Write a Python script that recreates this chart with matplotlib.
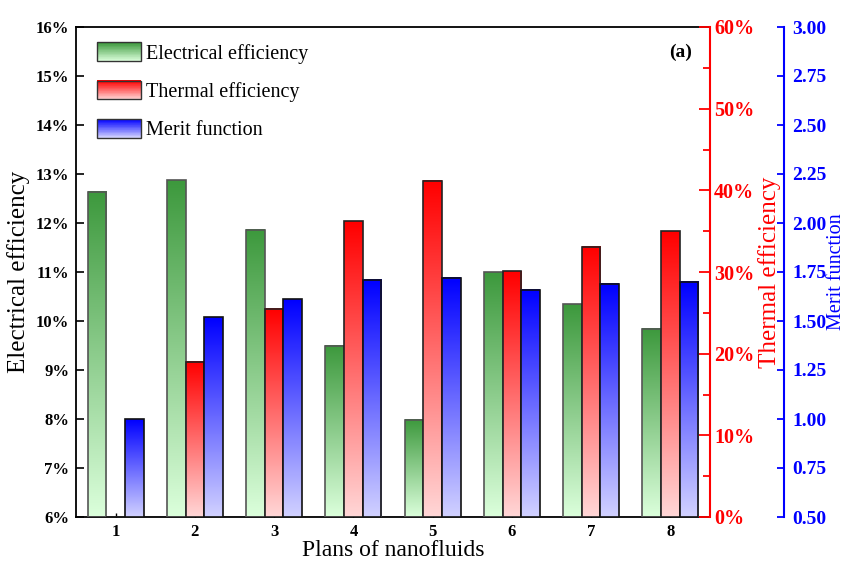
import numpy as np
import matplotlib
matplotlib.use('Agg')
import matplotlib.pyplot as plt
from matplotlib.patches import Rectangle
from matplotlib.legend_handler import HandlerBase
from matplotlib.ticker import MultipleLocator, FuncFormatter

plt.rcParams['font.family'] = ['Liberation Serif', 'DejaVu Serif']

# data
plans = [1, 2, 3, 4, 5, 6, 7, 8]
electrical = [12.64, 12.87, 11.86, 9.50, 7.98, 10.99, 10.34, 9.84]      # %
thermal = [np.nan, 19.0, 25.5, 36.2, 41.2, 30.1, 33.1, 35.0]            # %
merit = [1.00, 1.52, 1.61, 1.71, 1.72, 1.66, 1.69, 1.70]
labels = ['Electrical efficiency', 'Thermal efficiency', 'Merit function']

# gradient colours (top, bottom)
green = ((0.24, 0.60, 0.24), (0.86, 1.0, 0.86))
red = ((1.0, 0.0, 0.0), (1.0, 0.84, 0.84))
blue = ((0.0, 0.0, 1.0), (0.82, 0.82, 1.0))

w = 0.235


def grad_bars(ax, xs, vals, base, cols, edge):
    top, bot = np.array(cols[0]), np.array(cols[1])
    t = np.linspace(0, 1, 100)[:, None, None]
    img = top * (1 - t) + bot * t
    for x, v in zip(xs, vals):
        if np.isnan(v):
            continue
        ax.imshow(img, extent=[x - w / 2, x + w / 2, base, v], origin='upper',
                  aspect='auto', zorder=2, interpolation='bilinear')
    ax.bar(xs, [0 if np.isnan(v) else v - base for v in vals], width=w, bottom=base,
           facecolor='none', edgecolor=edge, linewidth=1.2, zorder=3)


class GradHandler(HandlerBase):
    def __init__(self, cols):
        super().__init__()
        self.cols = cols

    def create_artists(self, legend, orig_handle, xdescent, ydescent, width, height, fontsize, trans):
        top, bot = np.array(self.cols[0]), np.array(self.cols[1])
        arts = []
        n = 30
        for i in range(n):
            f = i / (n - 1)
            c = bot * (1 - f) + top * f
            arts.append(Rectangle((-xdescent, -ydescent + i * height / n), width, height / n + 0.3,
                                  facecolor=c, edgecolor='none', transform=trans))
        arts.append(Rectangle((-xdescent, -ydescent), width, height, fill=False,
                              edgecolor='#333333', linewidth=1.0, transform=trans))
        return arts


fig = plt.figure(figsize=(8.49, 5.65), dpi=100)
ax1 = fig.add_axes([76 / 849, 48 / 565, 634 / 849, 490 / 565])
ax2 = ax1.twinx()
ax3 = ax1.twinx()
ax3.spines['right'].set_position(('axes', 1.117))

x = np.array(plans, dtype=float)
grad_bars(ax1, x - w, electrical, 6, green, '#555555')
grad_bars(ax2, x, thermal, 0, red, '#222222')
grad_bars(ax3, x + w, merit, 0.5, blue, '#111111')

for a in (ax1, ax2, ax3):
    a.set_xlim(0.5, 8.5)
ax1.set_ylim(6, 16)
ax2.set_ylim(0, 60)
ax3.set_ylim(0.5, 3.0)

# spines
ax1.spines['right'].set_visible(False)
for s in ('left', 'top', 'bottom'):
    ax2.spines[s].set_visible(False)
    ax3.spines[s].set_visible(False)
ax1.spines['left'].set_linewidth(1.3)
ax1.spines['bottom'].set_linewidth(1.3)
ax1.spines['top'].set_linewidth(1.3)
ax2.spines['right'].set_color('red')
ax2.spines['right'].set_linewidth(1.5)
ax3.spines['right'].set_color('blue')
ax3.spines['right'].set_linewidth(1.5)

# ticks
ax1.set_xticks(plans)
ax1.set_xticklabels([str(p) for p in plans], fontsize=12, fontweight='bold')
ax1.tick_params(axis='x', direction='in', length=3, width=1, pad=5)
ax1.yaxis.set_major_locator(MultipleLocator(1))
ax1.yaxis.set_major_formatter(FuncFormatter(lambda v, p: '%d%%' % round(v)))
ax1.tick_params(axis='y', direction='in', length=6, width=1.2, labelsize=12, pad=5)
for t in ax1.get_yticklabels():
    t.set_fontweight('bold')

ax2.yaxis.set_major_locator(MultipleLocator(10))
ax2.yaxis.set_minor_locator(MultipleLocator(5))
ax2.yaxis.set_major_formatter(FuncFormatter(lambda v, p: '%d%%' % round(v)))
ax2.tick_params(axis='y', which='major', direction='in', length=8, width=1.3,
                colors='red', labelsize=14.5, pad=3)
ax2.tick_params(axis='y', which='minor', direction='in', length=5, width=1.3, colors='red')
for t in ax2.get_yticklabels():
    t.set_fontweight('bold')

ax3.yaxis.set_major_locator(MultipleLocator(0.25))
ax3.yaxis.set_major_formatter(FuncFormatter(lambda v, p: '%.2f' % v))
ax3.tick_params(axis='y', direction='in', length=5, width=1.3, colors='blue',
                labelsize=14, pad=6)
for t in ax3.get_yticklabels():
    t.set_fontweight('bold')

# axis labels
ax1.set_xlabel('Plans of nanofluids', fontsize=17, labelpad=0)
ax1.set_ylabel('Electrical efficiency', fontsize=18)
ax1.yaxis.set_label_coords(-0.073, 0.5)
ax2.set_ylabel('Thermal efficiency', fontsize=18, color='red')
ax2.yaxis.set_label_coords(1.076, 0.5)
ax3.set_ylabel('Merit function', fontsize=14.5, color='blue')
ax3.yaxis.set_label_coords(1.184, 0.5)

ax1.text(0.953, 0.949, '(a)', transform=ax1.transAxes, fontsize=14, fontweight='bold',
         ha='center', va='center')

# legend
h = [Rectangle((0, 0), 1, 1) for _ in range(3)]
ax3.legend(h, labels, loc='upper left', bbox_to_anchor=(0.02, 0.985), frameon=False,
           fontsize=14.5, handlelength=2.2, handleheight=1.05, labelspacing=0.85,
           handletextpad=0.25, borderaxespad=0,
           handler_map={h[0]: GradHandler(green), h[1]: GradHandler(red), h[2]: GradHandler(blue)})

fig.savefig('out.png', dpi=100)
